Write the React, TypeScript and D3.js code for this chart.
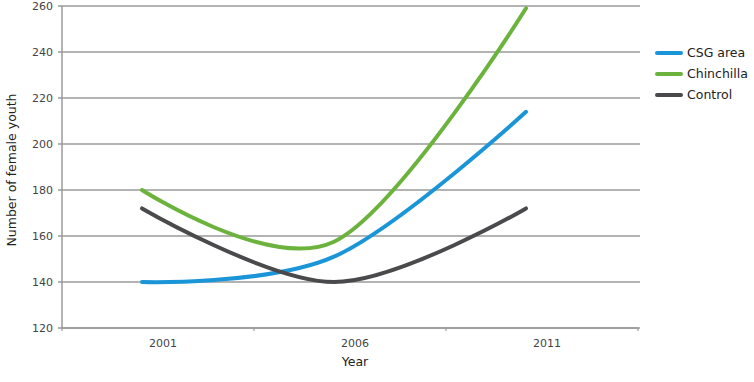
import React from "react";
import * as d3 from "d3";

const years = ["2001", "2006", "2011"];
const csgArea = [140, 151, 214];
const chinchilla = [180, 157.5, 259];
const control = [172, 140, 172];
const yTicks = [120, 140, 160, 180, 200, 220, 240, 260];
const seriesNames = ["CSG area", "Chinchilla", "Control"];
const seriesColors = ["#1a95d8", "#6bb33c", "#4a4a4c"];

const W = 754;
const H = 382;
const left = 62;
const right = 638;
const top = 6;
const bottom = 328;

export default function App() {
  const y = d3.scaleLinear().domain([120, 260]).range([bottom, top]);
  const band = d3.scaleBand().domain(years).range([left, right]);
  const px = (yr: string) => (band(yr) as number) + band.bandwidth() / 2 - 16;
  const lx = (yr: string) => (band(yr) as number) + band.bandwidth() / 2 + 5;
  const line = d3
    .line<number>()
    .x((_, i) => px(years[i]))
    .y((d) => y(d))
    .curve(d3.curveCardinal.tension(0));
  const allSeries = [csgArea, chinchilla, control];
  const font = "'DejaVu Sans', Verdana, sans-serif";
  const tickBoundaries = [...years.map((yr) => band(yr) as number), right];

  return (
    <svg
      width={W}
      height={H}
      style={{ position: "absolute", left: 0, top: 0, background: "#fff" }}
      fontFamily={font}
    >
      {yTicks.map((t) => (
        <g key={t}>
          <line x1={left - 4} x2={right + 2} y1={y(t)} y2={y(t)} stroke="#9a9a9a" strokeWidth={1.5} />
          <text x={53} y={y(t)} dy="0.35em" textAnchor="end" fontSize={11} fill="#444">
            {t}
          </text>
        </g>
      ))}
      <line x1={left} x2={left} y1={top} y2={bottom} stroke="#9a9a9a" strokeWidth={1.5} />
      <line x1={left} x2={right} y1={bottom} y2={bottom} stroke="#9a9a9a" strokeWidth={1.5} />
      {tickBoundaries.map((xv, i) => (
        <line key={i} x1={xv} x2={xv} y1={bottom} y2={bottom + 3} stroke="#9a9a9a" strokeWidth={1.2} />
      ))}
      {years.map((yr) => (
        <text key={yr} x={lx(yr)} y={343} dy="0.35em" textAnchor="middle" fontSize={11} fill="#444">
          {yr}
        </text>
      ))}
      <text x={355} y={362} dy="0.35em" textAnchor="middle" fontSize={12.5} fill="#222">
        Year
      </text>
      <text
        transform={`translate(12, 170) rotate(-90)`}
        dy="0.35em"
        textAnchor="middle"
        fontSize={12.5}
        fill="#222"
      >
        Number of female youth
      </text>
      {allSeries.map((s, i) => (
        <path
          key={i}
          d={line(s) as string}
          fill="none"
          stroke={seriesColors[i]}
          strokeWidth={4}
          strokeLinecap="round"
        />
      ))}
      {seriesNames.map((n, i) => (
        <g key={n} transform={`translate(657, ${53 + i * 21})`}>
          <line x1={0} x2={24} y1={0} y2={0} stroke={seriesColors[i]} strokeWidth={4} strokeLinecap="round" />
          <text x={30} y={0} dy="0.35em" fontSize={12.5} fill="#222">
            {n}
          </text>
        </g>
      ))}
    </svg>
  );
}
